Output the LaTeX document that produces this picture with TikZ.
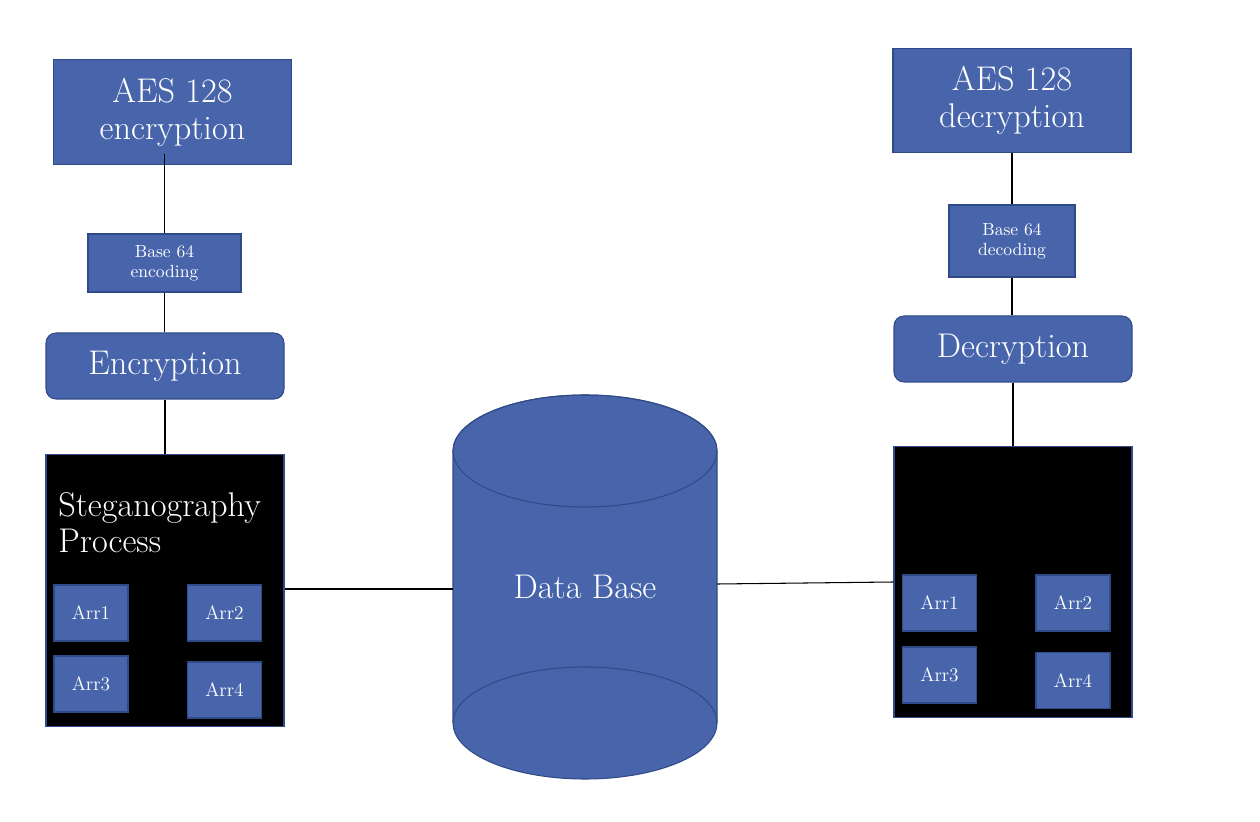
\documentclass[tikz,border=0pt]{standalone}
\usepackage{xcolor}
\usepackage{tikz}

\definecolor{boxblue}{RGB}{72,101,172}
\definecolor{edgeblue}{RGB}{47,75,135}

\tikzset{
  bluebox/.style={rectangle, fill=boxblue, draw=edgeblue, line width=0.6pt, text=white, align=center, inner sep=0pt},
  roundbox/.style={bluebox, rounded corners=0.2cm, minimum width=4.76cm, minimum height=1.32cm, font=\fontsize{19.5}{21}\selectfont},
  aesbox/.style={bluebox, minimum width=4.76cm, minimum height=2.09cm, font=\fontsize{19.5}{21}\selectfont},
  basebox/.style={bluebox, font=\fontsize{10}{11.5}\selectfont},
  arrbox/.style={bluebox, minimum width=1.48cm, minimum height=1.12cm, font=\fontsize{11}{13}\selectfont},
  stegbox/.style={rectangle, fill=black, draw=edgeblue, line width=0.6pt, minimum width=4.76cm, minimum height=5.43cm},
  link/.style={draw=black, line width=0.6pt}
}

\begin{document}
\begin{tikzpicture}
\useasboundingbox (0,0) rectangle (25.2,16.42);

% left side
\node at (3.45,14.18) [aesbox] (aesenc) {AES 128\\encryption};
\node at (3.29,11.16) [basebox, minimum width=3.06cm, minimum height=1.16cm] (b64enc) {Base 64\\encoding};
\node at (3.30,9.10) [roundbox] (encnode) {Encryption};
\node at (3.30,4.61) [stegbox] (stegenc) {};
\node at (1.16,6.58) [anchor=north west, inner sep=0pt, align=left, text=white, font=\fontsize{19.5}{20.5}\selectfont] (stegtitle) {Steganography\\Process};
\node at (1.82,4.16) [arrbox] (encarr1) {Arr1};
\node at (4.49,4.16) [arrbox] (encarr2) {Arr2};
\node at (1.82,2.74) [arrbox] (encarr3) {Arr3};
\node at (4.49,2.62) [arrbox] (encarr4) {Arr4};

% data base
\filldraw[fill=boxblue, draw=edgeblue, line width=0.6pt] (9.06,7.40) -- (9.06,1.96) arc[start angle=180, end angle=360, x radius=2.64, y radius=1.12] -- (14.34,7.40) arc[start angle=0, end angle=180, x radius=2.64, y radius=1.12] -- cycle;
\draw[edgeblue, line width=0.6pt] (11.70,7.40) ellipse [x radius=2.64, y radius=1.12];
\draw[edgeblue, line width=0.6pt] (9.06,1.96) arc[start angle=180, end angle=0, x radius=2.64, y radius=1.12];
\node at (11.70,4.68) [minimum width=5.28cm, minimum height=7.66cm, inner sep=0pt, text=white, font=\fontsize{19.5}{21}\selectfont] (dbase) {Data Base};

% right side
\node at (20.24,14.41) [aesbox] (aesdec) {AES 128\\decryption};
\node at (20.24,11.60) [basebox, minimum width=2.52cm, minimum height=1.44cm] (b64dec) {Base 64\\decoding};
\node at (20.26,9.44) [roundbox] (decnode) {Decryption};
\node at (20.26,4.78) [stegbox] (stegdec) {};
\node at (18.79,4.36) [arrbox] (decarr1) {Arr1};
\node at (21.46,4.36) [arrbox] (decarr2) {Arr2};
\node at (18.79,2.92) [arrbox] (decarr3) {Arr3};
\node at (21.46,2.81) [arrbox] (decarr4) {Arr4};

\draw[link] ([yshift=0.22cm]aesenc.south -| b64enc.north) -- (b64enc.north);
\draw[link] (b64enc.south) -- (b64enc.south |- encnode.north);
\draw[link] (encnode.south) -- (stegenc.north);
\draw[link] ([yshift=0.03cm]stegenc.east) -- ([yshift=0.03cm]stegenc.east -| dbase.west);
\draw[link] ([yshift=0.06cm]dbase.east) -- (stegdec.west);
\draw[link] (aesdec.south) -- (b64dec.north);
\draw[link] (b64dec.south) -- (b64dec.south |- decnode.north);
\draw[link] (decnode.south) -- (stegdec.north);
\end{tikzpicture}
\end{document}
